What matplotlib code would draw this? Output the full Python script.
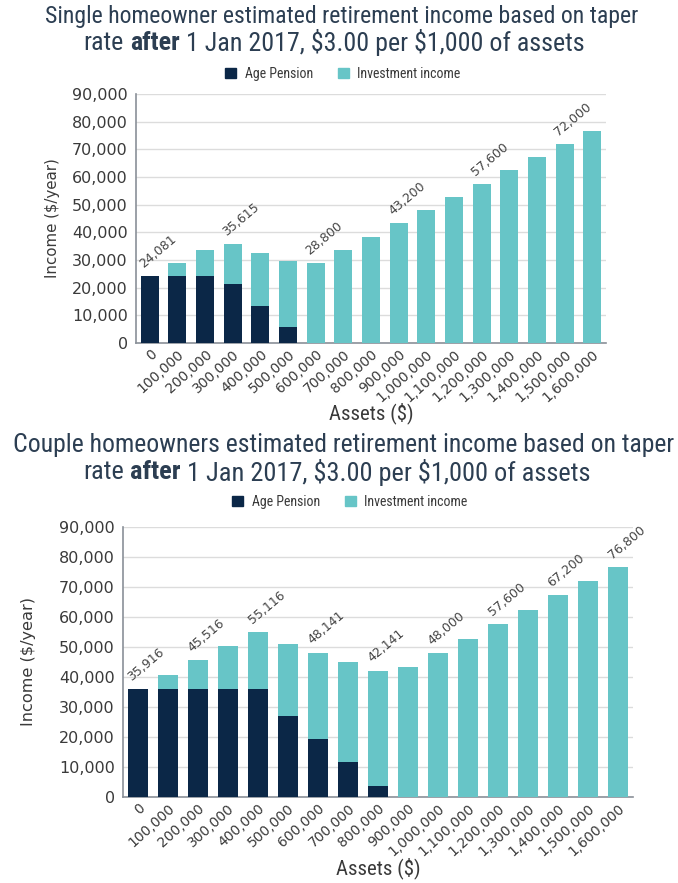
import matplotlib
matplotlib.use("Agg")
import matplotlib.pyplot as plt
from matplotlib import font_manager
from matplotlib.patches import Patch

# ---------------- data ----------------
asset_labels = ["0", "100,000", "200,000", "300,000", "400,000", "500,000", "600,000",
                "700,000", "800,000", "900,000", "1,000,000", "1,100,000", "1,200,000",
                "1,300,000", "1,400,000", "1,500,000", "1,600,000"]

single_pension = [24081, 24081, 24081, 21215, 13415, 5615, 0, 0, 0, 0, 0, 0, 0, 0, 0, 0, 0]
single_invest = [0, 4800, 9600, 14400, 19200, 24000, 28800, 33600, 38400, 43200,
                 48000, 52800, 57600, 62400, 67200, 72000, 76800]
single_label_idx = [0, 3, 6, 9, 12, 15]
single_label_txt = ["24,081", "35,615", "28,800", "43,200", "57,600", "72,000"]

couple_pension = [35916, 35916, 35916, 35916, 35916, 27141, 19341, 11541, 3741,
                  0, 0, 0, 0, 0, 0, 0, 0]
couple_invest = [0, 4800, 9600, 14400, 19200, 24000, 28800, 33600, 38400, 43200,
                 48000, 52800, 57600, 62400, 67200, 72000, 76800]
couple_label_idx = [0, 2, 4, 6, 8, 10, 12, 14, 16]
couple_label_txt = ["35,916", "45,516", "55,116", "48,141", "42,141", "48,000",
                    "57,600", "67,200", "76,800"]

series_names = ["Age Pension", "Investment income"]
yticks = [0, 10000, 20000, 30000, 40000, 50000, 60000, 70000, 80000, 90000]

# ---------------- style ----------------
NAVY = "#0b2747"
TEAL = "#67c5c7"
TITLE_C = "#2c3e52"
TEXT_C = "#3a3a3a"
GRID_C = "#dcdcdc"
SPINE_C = "#8a9098"

W, H = 678, 883
available = {f.name for f in font_manager.fontManager.ttflist}
cond = None
for cand in ["Liberation Sans Narrow", "Roboto Condensed", "Open Sans Condensed",
             "Noto Sans Condensed", "DejaVu Sans Condensed", "Liberation Sans"]:
    if cand in available:
        cond = cand
        break
if cond is None:
    cond = "DejaVu Sans"
COND = [cond, "DejaVu Sans"]
TICKF = ["DejaVu Sans"]

fig = plt.figure(figsize=(W / 100, H / 100), dpi=100)
fig.canvas.draw()
renderer = fig.canvas.get_renderer()


def text_width(s, size, weight="normal"):
    t = fig.text(0, 0, s, fontsize=size, family=COND, fontweight=weight)
    w = t.get_window_extent(renderer).width
    t.remove()
    return w


def rich_line(parts, y_px, target_w, x_center_px=339):
    # parts: list of (text, weight); fit size so the line width matches target
    base = 18.0
    space = text_width("a a", base) - text_width("aa", base)
    ws = [text_width(s, base, w) for s, w in parts]
    total = sum(ws) + space * (len(parts) - 1)
    size = base * target_w / total
    space = text_width("a a", size) - text_width("aa", size)
    ws = [text_width(s, size, w) for s, w in parts]
    total = sum(ws) + space * (len(parts) - 1)
    x = x_center_px - total / 2
    for (s, w), wd in zip(parts, ws):
        fig.text(x / W, 1 - y_px / H, s, fontsize=size, family=COND, fontweight=w,
                 color=TITLE_C, ha="left", va="center")
        x += wd + space


def draw_panel(rect, pension, invest, lab_idx, lab_txt, ylab_x, ylab_size, xlab_y,
               legend_xy):
    ax = fig.add_axes(rect)
    x = list(range(len(asset_labels)))
    ax.bar(x, pension, width=0.65, color=NAVY, zorder=3)
    ax.bar(x, invest, width=0.65, bottom=pension, color=TEAL, zorder=3)
    ax.set_xlim(-0.5, len(asset_labels) - 0.5)
    ax.set_ylim(0, 90000)
    ax.set_yticks(yticks)
    ax.set_yticklabels([f"{v:,}" for v in yticks], fontsize=11.5, color=TEXT_C, family=TICKF)
    ax.set_xticks(x)
    ax.set_xticklabels(asset_labels, rotation=42, ha="right", rotation_mode="anchor",
                       fontsize=10, color=TEXT_C, family=TICKF)
    ax.tick_params(axis="both", length=0)
    ax.tick_params(axis="y", pad=6)
    ax.tick_params(axis="x", pad=3)
    ax.grid(axis="y", color=GRID_C, lw=1, zorder=0)
    for s in ["top", "right"]:
        ax.spines[s].set_visible(False)
    for s in ["left", "bottom"]:
        ax.spines[s].set_color(SPINE_C)
        ax.spines[s].set_linewidth(1.2)
    totals = [p + i for p, i in zip(pension, invest)]
    for i, t in zip(lab_idx, lab_txt):
        ax.annotate(t, (i, totals[i]), xytext=(-3, 4), textcoords="offset points",
                    rotation=40, ha="left", va="bottom", rotation_mode="anchor",
                    fontsize=9, color="#444444", family=TICKF)
    fig.text(ylab_x / W, rect[1] + rect[3] / 2, "Income ($/year)", rotation=90,
             ha="center", va="center", fontsize=ylab_size, family=TICKF, color=TEXT_C)
    fig.text((rect[0] + rect[2] / 2), 1 - xlab_y / H, "Assets ($)", ha="center",
             va="center", fontsize=15, family=COND, color=TEXT_C)
    handles = [Patch(color=NAVY), Patch(color=TEAL)]
    fig.legend(handles, series_names, loc="center",
               bbox_to_anchor=(legend_xy[0] / W, 1 - legend_xy[1] / H),
               ncol=2, frameon=False, prop={"family": COND, "size": 10},
               handlelength=0.8, handleheight=0.8, handletextpad=0.6,
               columnspacing=1.8, labelcolor=TEXT_C)
    return ax


# top panel: axes px x 136-606, y 94-343
draw_panel([136 / W, 1 - 343 / H, 470 / W, 249 / H],
           single_pension, single_invest, single_label_idx, single_label_txt,
           ylab_x=53, ylab_size=10.8, xlab_y=413, legend_xy=(343, 74))
# bottom panel: axes px x 123-633, y 527-797
draw_panel([123 / W, 1 - 797 / H, 510 / W, 270 / H],
           couple_pension, couple_invest, couple_label_idx, couple_label_txt,
           ylab_x=28, ylab_size=11.6, xlab_y=868, legend_xy=(350, 502))

rich_line([("Single homeowner estimated retirement income based on taper", "normal")],
          16, 595, 342)
rich_line([("rate", "normal"), ("after", "bold"),
           ("1 Jan 2017, \\$3.00 per \\$1,000 of assets", "normal")], 43, 502, 334)
rich_line([("Couple homeowners estimated retirement income based on taper", "normal")],
          445, 664, 344)
rich_line([("rate", "normal"), ("after", "bold"),
           ("1 Jan 2017, \\$3.00 per \\$1,000 of assets", "normal")], 472, 509, 337)

fig.savefig("out.png", dpi=100)
